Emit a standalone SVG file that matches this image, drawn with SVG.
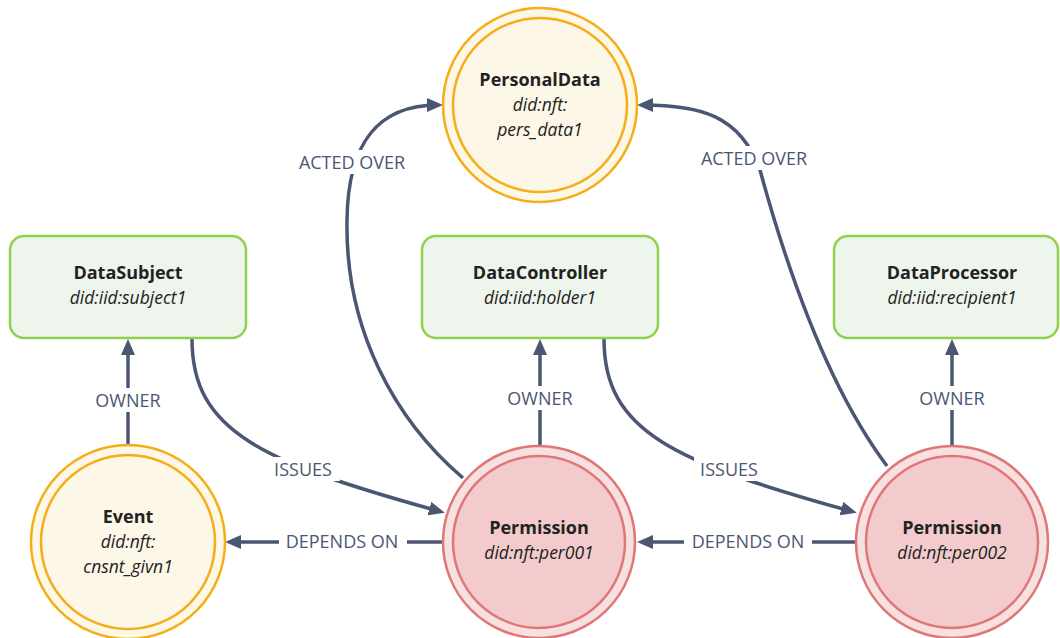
<svg xmlns="http://www.w3.org/2000/svg" width="1060" height="638" viewBox="0 0 1060 638">
  <style>
    .title { font-family: "Open Sans", "Liberation Sans", sans-serif; font-size: 18px; font-weight: bold; fill: #222222; text-anchor: middle; }
    .sub { font-family: "Open Sans", "Liberation Sans", sans-serif; font-size: 17.5px; font-style: italic; fill: #222222; text-anchor: middle; }
    .actor { fill: #eef5ec; stroke: #8fd14f; stroke-width: 2.5; }
    .data-outer { fill: #fdf7e8; stroke: #f5ad18; stroke-width: 2.5; }
    .data-inner { fill: #fdf7e8; stroke: #f5ad18; stroke-width: 2.5; }
    .perm-outer { fill: #f7e0e0; stroke: #e07676; stroke-width: 2.5; }
    .perm-inner { fill: #f3cbcc; stroke: #e07676; stroke-width: 2.5; }
    .edge { fill: none; stroke: #4b5672; stroke-width: 3.5; marker-end: url(#arrow); }
    .lbl-bg { fill: #ffffff; }
    .lbl { font-family: "Open Sans", "Liberation Sans", sans-serif; font-size: 18px; fill: #4b5672; text-anchor: middle; }
  </style>
  <defs>
    <marker id="arrow" markerUnits="userSpaceOnUse" markerWidth="16" markerHeight="14" refX="11" refY="7" orient="auto">
      <path d="M0,0 L16,7 L0,14 z" fill="#4b5672"/>
    </marker>
  </defs>
  <rect width="1060" height="638" fill="#ffffff"/>

  <!-- connectors -->
  <g id="connectors">
    <!-- ownership -->
    <path class="edge" d="M128,445 L128,344"/>
    <path class="edge" d="M540,445 L540,344"/>
    <path class="edge" d="M952,445 L952,344"/>
    <!-- dependencies -->
    <path class="edge" d="M443,542 L230,542"/>
    <path class="edge" d="M855,542 L642,542"/>
    <!-- issuance -->
    <path class="edge" d="M192,339 C192,432 262,462 440,511.5"/>
    <path class="edge" d="M604,339 C604,432 674,462 852,511.5"/>
    <!-- acted over -->
    <path class="edge" d="M463,478 C395,420 345,330 347,220 C348,140 380,105 438,105"/>
    <path class="edge" d="M887,466 C830,390 790,280 760,170 C740,115 700,105 642,105"/>

    <!-- labels -->
    <rect class="lbl-bg" x="96" y="388" width="64" height="24"/>
    <text class="lbl" x="128" y="406.5">OWNER</text>
    <rect class="lbl-bg" x="508" y="386" width="64" height="24"/>
    <text class="lbl" x="540" y="404.5">OWNER</text>
    <rect class="lbl-bg" x="920" y="386" width="64" height="24"/>
    <text class="lbl" x="952" y="404.5">OWNER</text>

    <rect class="lbl-bg" x="279" y="529" width="128" height="24"/>
    <text class="lbl" x="342" y="547.5">DEPENDS ON</text>
    <rect class="lbl-bg" x="684" y="529" width="128" height="24"/>
    <text class="lbl" x="748" y="547.5">DEPENDS ON</text>

    <rect class="lbl-bg" x="268" y="457" width="72" height="24"/>
    <text class="lbl" x="303" y="475.5">ISSUES</text>
    <rect class="lbl-bg" x="694" y="457" width="72" height="24"/>
    <text class="lbl" x="729" y="475.5">ISSUES</text>

    <rect class="lbl-bg" x="293" y="150" width="118" height="24"/>
    <text class="lbl" x="352" y="168.5">ACTED OVER</text>
    <rect class="lbl-bg" x="695" y="146" width="118" height="24"/>
    <text class="lbl" x="754" y="164.5">ACTED OVER</text>
  </g>

  <!-- nodes -->
  <g id="personal-data">
    <circle class="data-outer" cx="540" cy="105" r="97"/>
    <circle class="data-inner" cx="540" cy="105" r="87"/>
    <text class="title" x="540" y="86">PersonalData</text>
    <text class="sub" x="540" y="111">did:nft:</text>
    <text class="sub" x="540" y="136">pers_data1</text>
  </g>

  <g id="data-subject">
    <rect class="actor" x="10" y="236" width="236" height="102" rx="14"/>
    <text class="title" x="128" y="279">DataSubject</text>
    <text class="sub" x="128" y="304">did:iid:subject1</text>
  </g>

  <g id="data-controller">
    <rect class="actor" x="422" y="236" width="236" height="102" rx="14"/>
    <text class="title" x="540" y="279">DataController</text>
    <text class="sub" x="540" y="304">did:iid:holder1</text>
  </g>

  <g id="data-processor">
    <rect class="actor" x="834" y="236" width="224" height="102" rx="14"/>
    <text class="title" x="952" y="279">DataProcessor</text>
    <text class="sub" x="952" y="304">did:iid:recipient1</text>
  </g>

  <g id="event">
    <circle class="data-outer" cx="128" cy="542" r="97"/>
    <circle class="data-inner" cx="128" cy="542" r="87"/>
    <text class="title" x="128" y="523">Event</text>
    <text class="sub" x="128" y="548">did:nft:</text>
    <text class="sub" x="128" y="573">cnsnt_givn1</text>
  </g>

  <g id="permission-001">
    <circle class="perm-outer" cx="539" cy="542" r="96"/>
    <circle class="perm-inner" cx="539" cy="542" r="86"/>
    <text class="title" x="539" y="534">Permission</text>
    <text class="sub" x="539" y="559">did:nft:per001</text>
  </g>

  <g id="permission-002">
    <circle class="perm-outer" cx="952" cy="542" r="96"/>
    <circle class="perm-inner" cx="952" cy="542" r="86"/>
    <text class="title" x="952" y="534">Permission</text>
    <text class="sub" x="952" y="559">did:nft:per002</text>
  </g>
</svg>
